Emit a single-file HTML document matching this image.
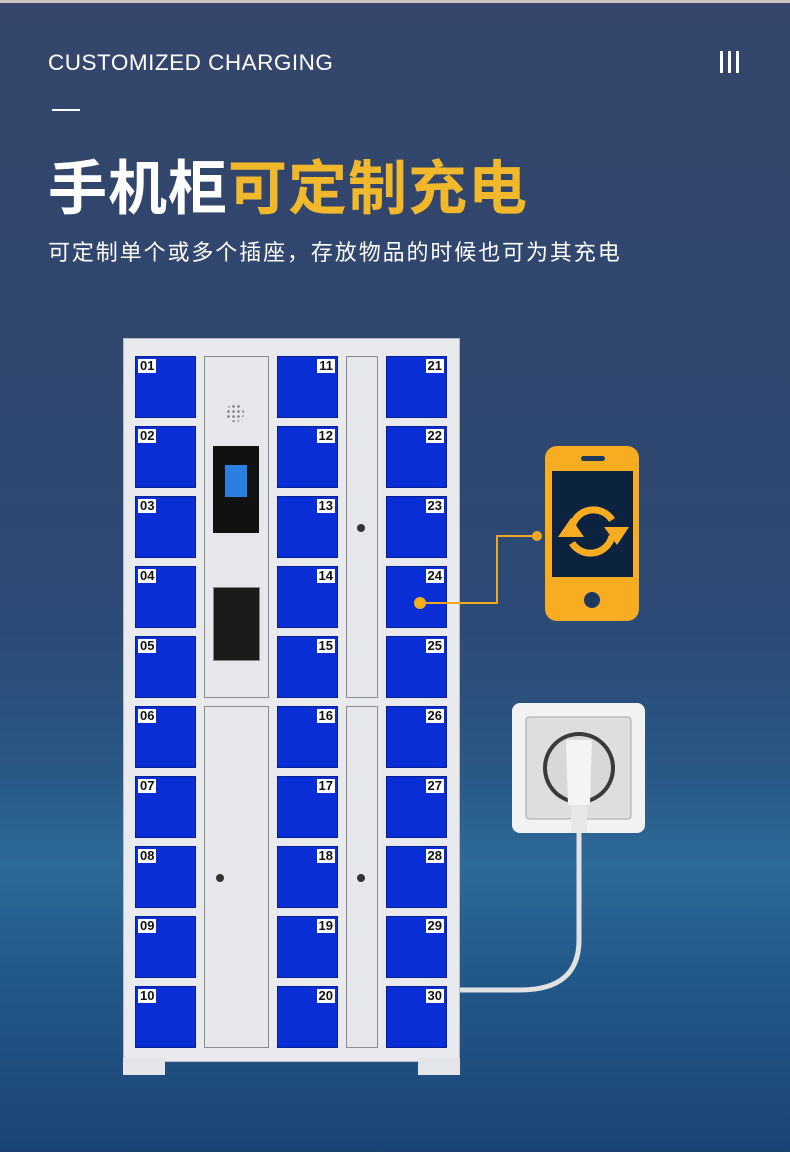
<!DOCTYPE html>
<html><head><meta charset="utf-8"><style>
*{margin:0;padding:0;box-sizing:border-box}
body{width:790px;height:1152px;position:relative;overflow:hidden;font-family:"Liberation Sans","Noto Sans CJK SC",sans-serif;
background:linear-gradient(180deg,#35466a 0%,#2f4770 35%,#2b4b76 55%,#2a5885 67%,#2c6a98 75%,#23598a 84%,#1b4475 100%)}
.a{position:absolute}
.d{position:absolute;width:61px;height:62px;background:#0a2ed6;border:1px solid #08208f}
.d span{position:absolute;top:2px;background:#fff;color:#111;font:bold 13px "Liberation Sans",sans-serif;padding:0 2px;line-height:14px}
.l span{left:2px}.r span{right:2px}
.p{position:absolute;background:#e6e7eb;border:1px solid #8a8c90}
</style></head><body>
<div class="a" style="left:0;top:0;width:790px;height:3px;background:#c9c2c0"></div>
<div class="a" style="left:48px;top:50px;color:#fff;font-size:22.5px;letter-spacing:0.5px">CUSTOMIZED CHARGING</div>
<div class="a" style="left:720px;top:51px;width:3px;height:22px;background:#fff"></div>
<div class="a" style="left:728px;top:51px;width:3px;height:22px;background:#fff"></div>
<div class="a" style="left:736px;top:51px;width:3px;height:22px;background:#fff"></div>
<div class="a" style="left:52px;top:109px;width:28px;height:2px;background:#fff"></div>
<div class="a" style="left:48px;top:141px;font-size:59px;font-weight:bold;color:#fff;letter-spacing:1px;white-space:nowrap">手机柜<span style="color:#f0b82a">可定制充电</span></div>
<div class="a" style="left:48px;top:235px;font-size:22px;letter-spacing:1.9px;color:#fff;white-space:nowrap">可定制单个或多个插座，存放物品的时候也可为其充电</div>

<div class="a" style="left:123px;top:338px;width:337px;height:724px;background:#e9eaee;border:1px solid #b8bac0"></div>
<div class="a" style="left:123px;top:1058px;width:42px;height:17px;background:#e4e5e9"></div>
<div class="a" style="left:418px;top:1058px;width:42px;height:17px;background:#e4e5e9"></div>
<div class="p" style="left:204px;top:356px;width:65px;height:342px"></div>
<div class="p" style="left:204px;top:706px;width:65px;height:342px"></div>
<div class="p" style="left:346px;top:356px;width:32px;height:342px"></div>
<div class="p" style="left:346px;top:706px;width:32px;height:342px"></div>
<div class="a" style="left:226px;top:404px;width:18px;height:18px;border-radius:50%;background:radial-gradient(#777 1px,transparent 1.5px) 0 0/5px 5px"></div>
<div class="a" style="left:213px;top:446px;width:46px;height:87px;background:#111"></div>
<div class="a" style="left:225px;top:465px;width:22px;height:32px;background:#2a7fe0"></div>
<div class="a" style="left:213px;top:587px;width:47px;height:74px;background:#1a1a1a;border:1px solid #888"></div>
<div class="a" style="left:216px;top:874px;width:8px;height:8px;border-radius:50%;background:#333"></div>
<div class="a" style="left:357px;top:524px;width:8px;height:8px;border-radius:50%;background:#333"></div>
<div class="a" style="left:357px;top:874px;width:8px;height:8px;border-radius:50%;background:#333"></div>

<div class="d l" style="left:135px;top:356px"><span>01</span></div>
<div class="d l" style="left:135px;top:426px"><span>02</span></div>
<div class="d l" style="left:135px;top:496px"><span>03</span></div>
<div class="d l" style="left:135px;top:566px"><span>04</span></div>
<div class="d l" style="left:135px;top:636px"><span>05</span></div>
<div class="d l" style="left:135px;top:706px"><span>06</span></div>
<div class="d l" style="left:135px;top:776px"><span>07</span></div>
<div class="d l" style="left:135px;top:846px"><span>08</span></div>
<div class="d l" style="left:135px;top:916px"><span>09</span></div>
<div class="d l" style="left:135px;top:986px"><span>10</span></div>
<div class="d r" style="left:277px;top:356px"><span>11</span></div>
<div class="d r" style="left:277px;top:426px"><span>12</span></div>
<div class="d r" style="left:277px;top:496px"><span>13</span></div>
<div class="d r" style="left:277px;top:566px"><span>14</span></div>
<div class="d r" style="left:277px;top:636px"><span>15</span></div>
<div class="d r" style="left:277px;top:706px"><span>16</span></div>
<div class="d r" style="left:277px;top:776px"><span>17</span></div>
<div class="d r" style="left:277px;top:846px"><span>18</span></div>
<div class="d r" style="left:277px;top:916px"><span>19</span></div>
<div class="d r" style="left:277px;top:986px"><span>20</span></div>
<div class="d r" style="left:386px;top:356px"><span>21</span></div>
<div class="d r" style="left:386px;top:426px"><span>22</span></div>
<div class="d r" style="left:386px;top:496px"><span>23</span></div>
<div class="d r" style="left:386px;top:566px"><span>24</span></div>
<div class="d r" style="left:386px;top:636px"><span>25</span></div>
<div class="d r" style="left:386px;top:706px"><span>26</span></div>
<div class="d r" style="left:386px;top:776px"><span>27</span></div>
<div class="d r" style="left:386px;top:846px"><span>28</span></div>
<div class="d r" style="left:386px;top:916px"><span>29</span></div>
<div class="d r" style="left:386px;top:986px"><span>30</span></div>

<svg class="a" style="left:0;top:0" width="790" height="1152">
<polyline points="420,603 497,603 497,536 537,536" fill="none" stroke="#f5a623" stroke-width="2"/>
<circle cx="420" cy="603" r="6" fill="#f5b020"/>
<circle cx="537" cy="536" r="5" fill="#f5a623"/>
<rect x="545" y="446" width="94" height="175" rx="12" fill="#f7ac22"/>
<rect x="552" y="471" width="81" height="106" fill="#0c2340"/>
<rect x="581" y="456" width="24" height="5" rx="2.5" fill="#1c3a5c"/>
<circle cx="592" cy="600" r="8" fill="#1c3a5c"/>
<path d="M572,527 A22,22 0 0 1 612,520" fill="none" stroke="#f7ac22" stroke-width="7"/>
<path d="M612,536 A22,22 0 0 1 572,543" fill="none" stroke="#f7ac22" stroke-width="7"/>
<polygon points="604,527 629,527 617,545" fill="#f7ac22"/>
<polygon points="558,537 584,537 571,518" fill="#f7ac22"/>
<rect x="512" y="703" width="133" height="130" rx="8" fill="#f2f2f2"/>
<rect x="526" y="717" width="105" height="102" rx="3" fill="#dedede" stroke="#aaa"/>
<circle cx="579" cy="768" r="36" fill="#3a3a3a"/>
<circle cx="579" cy="768" r="32" fill="#d8d8d8"/>
<path d="M566,740 L592,740 L590,805 L568,805 Z" fill="#f4f4f4"/>
<rect x="571" y="805" width="16" height="28" fill="#e8e8e8"/>
<path d="M579,833 L579,940 Q579,990 520,990 L460,990" fill="none" stroke="#e2e2e2" stroke-width="5"/>
</svg>
</body></html>
